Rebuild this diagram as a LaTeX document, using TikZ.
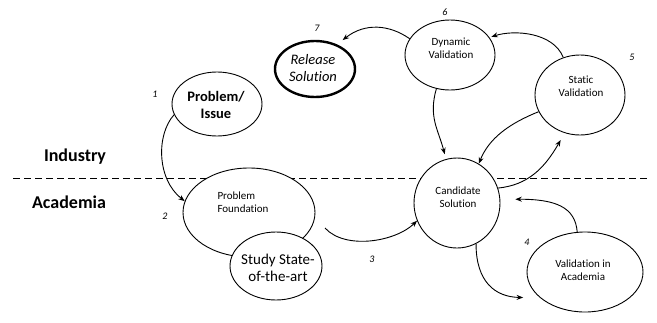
\documentclass[tikz,border=0pt]{standalone}
\usepackage{fontspec}
\setmainfont{Carlito}[Ligatures={NoCommon}]
\usetikzlibrary{shapes.geometric,arrows.meta}
\begin{document}
\begin{tikzpicture}[x=1pt,y=-1pt,
  ell/.style={draw,ellipse,inner sep=0pt,line width=0.9pt,fill=white},
  lbl/.style={align=center,inner sep=0pt,font=\fontsize{11}{13.3}\selectfont},
  num/.style={font=\fontsize{10}{12}\selectfont\itshape,inner sep=0pt},
  conn/.style={-{Stealth[length=6.5pt,width=5pt]},line width=0.9pt}]
\useasboundingbox (0,0) rectangle (657,322);

% divider
\coordinate (dl) at (13,178);
\coordinate (dr) at (650,178);
\draw[line width=0.8pt,dash pattern=on 7pt off 4pt] (dl) -- (dr);
\node[font=\fontsize{18}{20}\selectfont\bfseries,inner sep=0pt] (ind) at (75,157) {Industry};
\node[font=\fontsize{18}{20}\selectfont\bfseries,inner sep=0pt] (aca) at (69,202) {Academia};

% ellipses
\node[ell,minimum width=90pt,minimum height=64pt] (pi) at (217,104) {};
\node[ell,line width=2.4pt,minimum width=80pt,minimum height=56pt] (rs) at (315,69) {};
\node[ell,minimum width=90pt,minimum height=70pt] (dv) at (450,55) {};
\node[ell,minimum width=90pt,minimum height=80pt] (sv) at (580,95) {};
\node[ell,minimum width=86pt,minimum height=90pt] (cs) at (457,203) {};
\node[ell,minimum width=116pt,minimum height=80pt] (va) at (585,272) {};
\node[ell,minimum width=132pt,minimum height=89pt] (pf) at (249,212.5) {};
\node[ell,minimum width=92pt,minimum height=68pt] (st) at (276,266) {};

% texts
\node[lbl,font=\fontsize{14.5}{17}\selectfont\bfseries] (tpi) at (216,105) {Problem/\\Issue};
\node[lbl,font=\fontsize{14.5}{17}\selectfont\itshape] (trs) at (313,68.5) {Release\\Solution};
\node[lbl] (tdv) at (451,48) {Dynamic\\Validation};
\node[lbl] (tsv) at (581,86) {Static\\Validation};
\node[lbl] (tcs) at (458,197) {Candidate\\Solution};
\node[lbl] (tva) at (583,270) {Validation in\\Academia};
\node[lbl,align=left] (tpf) at (243,202) {Problem\\Foundation};
\node[lbl,font=\fontsize{15}{17.5}\selectfont] (tst) at (278,268) {Study State-\\of-the-art};

% numbers
\node[num] (n1) at (155,94) {1};
\node[num] (n2) at (165,216) {2};
\node[num] (n3) at (372,259) {3};
\node[num] (n4) at (527,242) {4};
\node[num] (n5) at (632,57) {5};
\node[num] (n6) at (445,12) {6};
\node[num] (n7) at (317,28) {7};

% connectors
\draw[conn] (pi.194) .. controls +(-18,20) and +(-28,-22) .. (pf.170);
\coordinate (s3) at (325,228);
\draw[conn] (s3) .. controls (345,250) and (395,242) .. (cs.204);
\draw[conn,shorten >=17pt] (cs.295) .. controls +(0,38) and +(-45,-1) .. (va.210);
\draw[conn,shorten >=15pt] (va.101) .. controls +(-2,-25) and +(55,0) .. (cs.5);
\draw[conn,shorten >=8pt] (cs.20) .. controls +(30,-3) and +(-20,35) .. (sv.248);
\draw[conn] (sv.202) .. controls +(-30,12) and +(10,-25) .. (cs.61);
\draw[conn,shorten >=5pt] (dv.248) .. controls +(-8,28) and +(-8,-30) .. (cs.104);
\draw[conn,shorten >=2pt] (sv.114) .. controls +(-10,-25) and +(25,-8) .. (dv.24);
\draw[conn,shorten >=7pt] (dv.158) .. controls +(-20,-14) and +(28,-22) .. (rs.48);
\end{tikzpicture}
\end{document}
